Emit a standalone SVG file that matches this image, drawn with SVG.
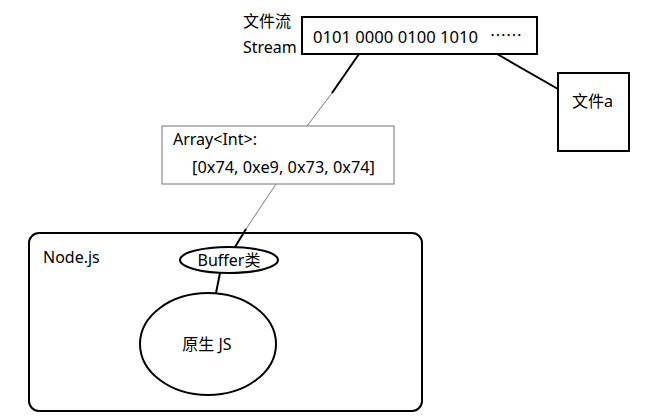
<svg xmlns="http://www.w3.org/2000/svg" width="647" height="420" viewBox="0 0 647 420">
<style>
text{font-family:"Noto Sans","Noto Sans CJK SC",sans-serif;font-size:16px;fill:#000}
.thick{stroke:#000;stroke-width:2;fill:none}
.thin{stroke:#555;stroke-width:0.8;fill:none}
</style>
<rect width="647" height="420" fill="#fff"/>
<g id="connectors">
<line class="thick" x1="359" y1="54" x2="332" y2="93"/>
<line class="thin" x1="332" y1="93" x2="307" y2="126"/>
<line class="thick" x1="497" y1="54" x2="558" y2="89"/>
<line class="thin" x1="276" y1="184" x2="246" y2="229"/>
<line class="thick" x1="246" y1="229" x2="235" y2="247"/>
<line class="thick" x1="220" y1="273" x2="216" y2="293"/>
</g>
<g id="stream">
<text x="243" y="27">文件流</text>
<text x="243" y="53">Stream</text>
<rect x="302" y="17" width="235" height="37" class="thick"/>
<text x="313" y="43" textLength="165" lengthAdjust="spacingAndGlyphs">0101 0000 0100 1010</text>
<text x="490" y="41" font-size="12" style="font-family:'Noto Sans CJK SC',sans-serif">……</text>
</g>
<g id="file-a">
<rect x="558" y="73" width="71" height="78" class="thick"/>
<text x="572" y="107">文件a</text>
</g>
<g id="array">
<rect x="162" y="126" width="232" height="58" fill="#fff" stroke="#777" stroke-width="1"/>
<text x="173" y="145">Array&lt;Int&gt;:</text>
<text x="192" y="173" textLength="183" lengthAdjust="spacingAndGlyphs">[0x74, 0xe9, 0x73, 0x74]</text>
</g>
<g id="nodejs">
<rect x="29" y="233" width="393" height="178" rx="10" class="thick"/>
<text x="43" y="263">Node.js</text>
</g>
<g id="buffer">
<ellipse cx="229" cy="260" rx="49" ry="13" fill="#fff" stroke="#000" stroke-width="2"/>
<text x="229" y="266" text-anchor="middle">Buffer类</text>
</g>
<g id="native-js">
<ellipse cx="208" cy="344" rx="68" ry="51" class="thick"/>
<text x="207" y="350" text-anchor="middle">原生 JS</text>
</g>
</svg>
